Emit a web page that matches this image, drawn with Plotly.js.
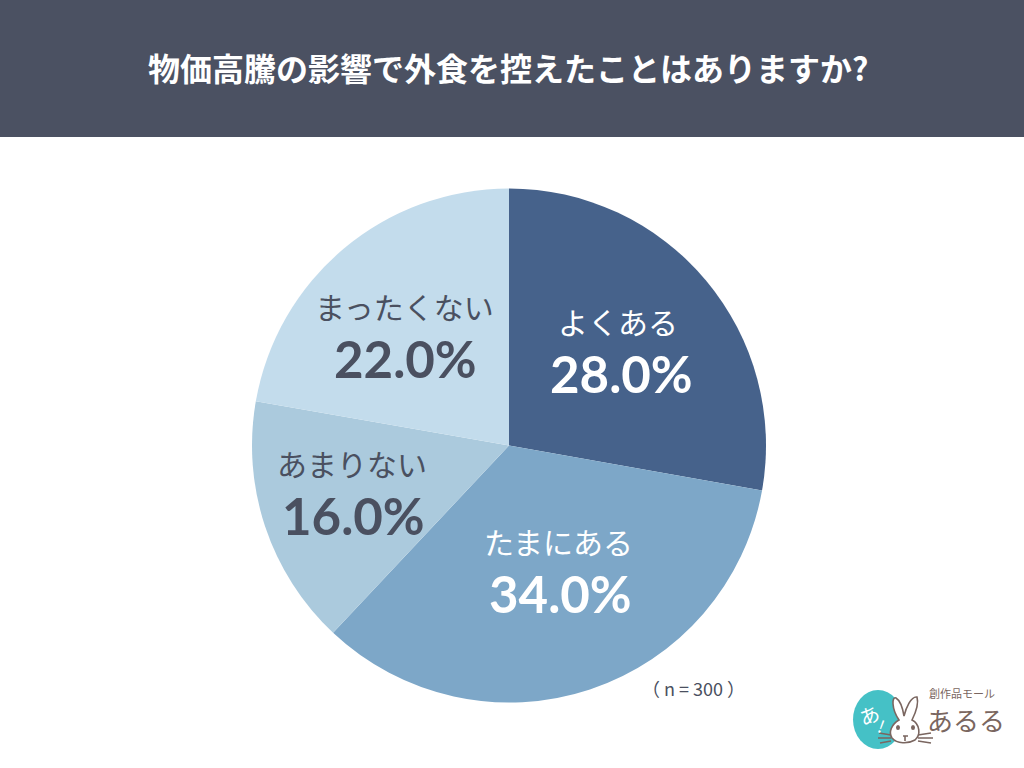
<!DOCTYPE html>
<html><head><meta charset="utf-8">
<script src="https://cdn.plot.ly/plotly-3.0.0.min.js"></script>
<style>html,body{margin:0;padding:0;background:#fff}#c{width:1024px;height:768px}</style></head>
<body><div id="c"></div>
<script>
const categories=["よくある","たまにある","あまりない","まったくない"];
const values=[28.0,34.0,16.0,22.0];
const sliceSizes=[27.8,34.2,15.75,22.25];
const colors=["#46628B","#7DA7C8","#ABCADD","#C3DCEC"];
const titleText="物価高騰の影響で外食を控えたことはありますか?";
const noteText="（ n = 300 ）";
const F="'Noto Sans CJK JP','Noto Sans',sans-serif";
const labelPos=[[618,321,"#fff"],[558,541,"#fff"],[352,463,"#4A5060"],[404,306,"#4A5060"]];
const pctPos=[[621,373,"#fff"],[560,593,"#fff"],[353,515,"#4A5060"],[405,358,"#4A5060"]];
const annotations=[];
categories.forEach((c,i)=>{
 annotations.push({x:labelPos[i][0],y:labelPos[i][1],xref:"x",yref:"y",text:c,showarrow:false,font:{family:F,size:30,color:labelPos[i][2]}});
 annotations.push({x:pctPos[i][0],y:pctPos[i][1],xref:"x",yref:"y",text:"<b>"+values[i].toFixed(1)+"%</b>",showarrow:false,font:{family:"Lato,'Noto Sans',sans-serif",size:51,color:pctPos[i][2]}});
});
annotations.push({x:508,y:67,xref:"x",yref:"y",text:"<b>"+titleText+"</b>",showarrow:false,font:{family:F,size:32,color:"#fff"}});
annotations.push({x:693,y:688,xref:"x",yref:"y",text:noteText,showarrow:false,font:{family:F,size:18,color:"#4A5060"}});
annotations.push({x:962,y:693,xref:"x",yref:"y",text:"創作品モール",showarrow:false,font:{family:F,size:11,color:"#7A6660"}});
annotations.push({x:966,y:719,xref:"x",yref:"y",text:"あるる",showarrow:false,font:{family:F,size:26,color:"#7A6660"}});
annotations.push({x:869,y:714,xref:"x",yref:"y",text:"あ",showarrow:false,textangle:-20,font:{family:F,size:20,color:"#fff"}});
annotations.push({x:882,y:725,xref:"x",yref:"y",text:"!",showarrow:false,textangle:20,font:{family:F,size:17,color:"#fff"}});
const brown={color:"#7A6660",width:1.6};
const shapes=[{type:"rect",xref:"x",yref:"y",x0:0,x1:1024,y0:0,y1:137,fillcolor:"#4B5162",line:{width:0},layer:"below"},
 {type:"circle",xref:"x",yref:"y",x0:853,x1:903,y0:690,y1:749,fillcolor:"#45C1C6",line:{width:0},layer:"above"},
 {type:"path",xref:"x",yref:"y",path:"M 899 720 C 891 708 892 696 896 698 C 901 701 903 710 904 716 C 906 708 911 696 917 697 C 919 704 916 712 912 720 C 920 724 921 735 915 740 C 908 744 897 744 892 738 C 888 732 892 724 899 720 Z",fillcolor:"#fff",line:brown,layer:"above"},
 {type:"circle",xref:"x",yref:"y",x0:896,x1:900,y0:725,y1:730,fillcolor:"#7A6660",line:{width:0},layer:"above"},
 {type:"circle",xref:"x",yref:"y",x0:911,x1:915,y0:725,y1:730,fillcolor:"#7A6660",line:{width:0},layer:"above"},
 {type:"path",xref:"x",yref:"y",path:"M 879 733 L 891 735 M 878 738 L 891 738 M 880 743 L 891 741 M 918 735 L 931 733 M 918 738 L 933 738 M 918 741 L 931 743 M 903 736 L 908 736 M 905 736 L 905 741",line:brown,layer:"above"}];
Plotly.newPlot("c",[{type:"pie",labels:categories,values:sliceSizes,marker:{colors:colors,line:{width:0}},sort:false,direction:"clockwise",rotation:0,textinfo:"none",hoverinfo:"label",showlegend:false,domain:{x:[252/1024,766/1024],y:[1-703/768,1-188/768]}}],{
 width:1024,height:768,margin:{l:0,r:0,t:0,b:0},paper_bgcolor:"#fff",showlegend:false,
 xaxis:{range:[0,1024],visible:false,fixedrange:true,domain:[0,1]},
 yaxis:{range:[768,0],visible:false,fixedrange:true,domain:[0,1]},
 shapes:shapes,
 annotations:annotations
},{staticPlot:true});
</script></body></html>
